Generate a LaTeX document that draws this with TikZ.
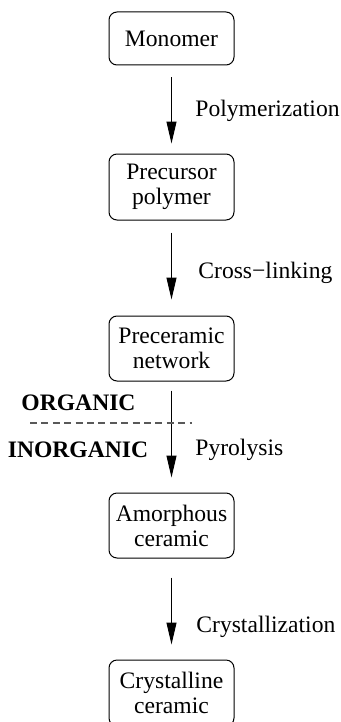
\documentclass[tikz,border=0pt]{standalone}
\usepackage{fontspec}
\setmainfont{Liberation Serif}
\usetikzlibrary{arrows.meta}

\begin{document}
\begin{tikzpicture}[x=0.5pt,y=-0.5pt,
  font=\fontsize{11.8pt}{12.5pt}\selectfont,
  stage/.style={draw,rounded corners=4pt,line width=0.5pt,minimum width=62.5pt,align=center,inner sep=0pt},
  flow/.style={-{Triangle[length=11pt,width=5pt]},line width=0.5pt},
  proc/.style={anchor=west,inner sep=0pt},
  side/.style={font=\fontsize{11.8pt}{12.5pt}\selectfont\bfseries}]
\clip (0,0) rectangle (341,722);
\useasboundingbox (0,0) rectangle (341,722);
\node [stage,minimum height=26.5pt] (mono) at(171.5,38.5){Monomer};
\node [stage,minimum height=33pt] (prec) at(171.5,187){Precursor\\polymer};
\node [stage,minimum height=32.5pt] (net) at(171.5,348.5){Preceramic\\network};
\node [stage,minimum height=32.5pt] (amor) at(171.5,525.5){Amorphous\\ceramic};
\node [stage,minimum height=33pt] (cryst) at(171.5,693){Crystalline\\ceramic};
\draw[flow,shorten <=6pt,shorten >=5pt](mono)--(prec);
\draw[flow,shorten <=6pt,shorten >=8pt](prec)--(net);
\draw[flow,shorten <=4.5pt,shorten >=7.5pt](net)--(amor);
\draw[flow,shorten <=9.5pt,shorten >=7.5pt](amor)--(cryst);
\node [proc] (poly) at(195,111){Polymerization};
\node [proc] (xlink) at(198,273){Cross−linking};
\node [proc] (pyro) at(195,450){Pyrolysis};
\node [proc] (cryz) at(196,627){Crystallization};
% organic / inorganic boundary
\coordinate (bl) at(30,423);
\coordinate (br) at(192,423);
\draw[black!65,line width=0.7pt,dash pattern=on 3.5pt off 2.2pt](bl)--(br);
\node [side] (org) at(78.5,403){ORGANIC};
\node [side] (inorg) at(78,450){INORGANIC};
\end{tikzpicture}
\end{document}
